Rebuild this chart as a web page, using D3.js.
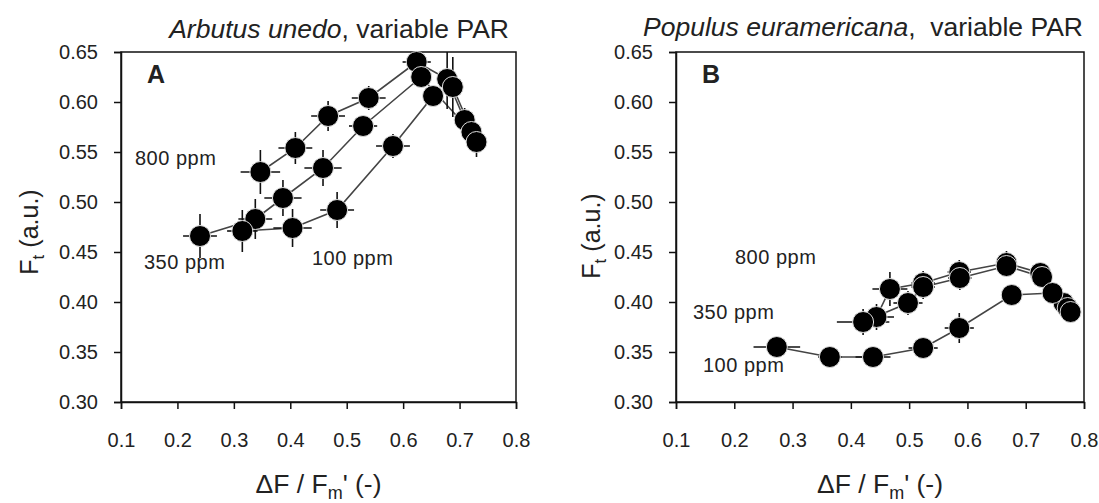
<!DOCTYPE html>
<html>
<head>
<meta charset="utf-8">
<script src="https://cdn.jsdelivr.net/npm/d3@7"></script>
<style>
  body { margin: 0; background: #fff; }
  text { font-family: "Liberation Sans", Arial, sans-serif; fill: #222; }
</style>
</head>
<body>
<script>
// axis ticks
var xTicks = [0.1, 0.2, 0.3, 0.4, 0.5, 0.6, 0.7, 0.8];
var yTicks = [0.30, 0.35, 0.40, 0.45, 0.50, 0.55, 0.60, 0.65];

// panel A - Arbutus unedo (dF/Fm', Ft, x error, y error)
var xA800 = [0.347, 0.409, 0.467, 0.539, 0.624, 0.678, 0.709];
var yA800 = [0.530, 0.554, 0.586, 0.604, 0.640, 0.623, 0.582];
var exA800 = [0.035, 0.03, 0.03, 0.03, 0.025, 0.015, 0.01];
var eyA800 = [0.022, 0.016, 0.015, 0.012, 0.012, 0.03, 0.012];

var xA350 = [0.240, 0.338, 0.387, 0.458, 0.529, 0.632, 0.721];
var yA350 = [0.466, 0.483, 0.504, 0.534, 0.576, 0.625, 0.570];
var exA350 = [0.03, 0.03, 0.033, 0.033, 0.025, 0.015, 0.01];
var eyA350 = [0.022, 0.02, 0.018, 0.018, 0.01, 0.01, 0.012];

var xA100 = [0.315, 0.404, 0.483, 0.582, 0.653, 0.688, 0.730];
var yA100 = [0.471, 0.474, 0.492, 0.556, 0.606, 0.615, 0.560];
var exA100 = [0.027, 0.034, 0.03, 0.03, 0.012, 0.01, 0.008];
var eyA100 = [0.021, 0.019, 0.018, 0.012, 0.01, 0.03, 0.015];

// panel B - Populus euramericana
var xB800 = [0.444, 0.467, 0.524, 0.586, 0.667, 0.725, 0.765];
var yB800 = [0.385, 0.413, 0.419, 0.430, 0.439, 0.429, 0.399];
var exB800 = [0.03, 0.03, 0.02, 0.02, 0.015, 0.01, 0.01];
var eyB800 = [0.013, 0.017, 0.012, 0.012, 0.012, 0.01, 0.01];

var xB350 = [0.421, 0.498, 0.524, 0.587, 0.667, 0.728, 0.772];
var yB350 = [0.380, 0.399, 0.415, 0.424, 0.436, 0.425, 0.394];
var exB350 = [0.045, 0.025, 0.02, 0.02, 0.015, 0.01, 0.01];
var eyB350 = [0.013, 0.012, 0.012, 0.012, 0.01, 0.01, 0.01];

var xB100 = [0.273, 0.364, 0.438, 0.524, 0.586, 0.676, 0.746, 0.777];
var yB100 = [0.355, 0.345, 0.345, 0.354, 0.374, 0.407, 0.409, 0.390];
var exB100 = [0.04, 0.02, 0.03, 0.025, 0.025, 0.015, 0.01, 0.01];
var eyB100 = [0.01, 0.008, 0.008, 0.01, 0.015, 0.01, 0.01, 0.01];

var svgWidth = 1099;
var svgHeight = 503;

var svg = d3.select("body")
    .append("svg")
    .attr("width", svgWidth)
    .attr("height", svgHeight);

function zip(xs, ys, exs, eys) {
    return xs.map(function (x, i) {
        return { x: x, y: ys[i], ex: exs[i], ey: eys[i] };
    });
}

var panels = [
    {
        id: "A", left: 121, right: 516, top: 52, bottom: 402,
        species: "Arbutus unedo", rest: ", variable PAR", titleEnd: 509, titleY: 38,
        yLabelX: 38, yLabelY: 232,
        series: [
            zip(xA800, yA800, exA800, eyA800),
            zip(xA350, yA350, exA350, eyA350),
            zip(xA100, yA100, exA100, eyA100)
        ],
        notes: [
            { text: "800 ppm", x: 135, y: 165 },
            { text: "350 ppm", x: 144, y: 269 },
            { text: "100 ppm", x: 312, y: 265 }
        ]
    },
    {
        id: "B", left: 676, right: 1084, top: 52, bottom: 402,
        species: "Populus euramericana", rest: ",  variable PAR", titleEnd: 1083, titleY: 36,
        yLabelX: 600, yLabelY: 236,
        series: [
            zip(xB800, yB800, exB800, eyB800),
            zip(xB350, yB350, exB350, eyB350),
            zip(xB100, yB100, exB100, eyB100)
        ],
        notes: [
            { text: "800 ppm", x: 735, y: 264 },
            { text: "350 ppm", x: 693, y: 319 },
            { text: "100 ppm", x: 703, y: 372 }
        ]
    }
];

panels.forEach(function (p) {
    var x = d3.scaleLinear().domain([0.1, 0.8]).range([p.left, p.right]);
    var y = d3.scaleLinear().domain([0.30, 0.65]).range([p.bottom, p.top]);

    var g = svg.append("g");

    // clip for error bars
    var clipId = "clip" + p.id;
    svg.append("clipPath").attr("id", clipId)
        .append("rect")
        .attr("x", p.left).attr("y", p.top)
        .attr("width", p.right - p.left).attr("height", p.bottom - p.top);

    // frame
    g.append("rect")
        .attr("x", p.left).attr("y", p.top)
        .attr("width", p.right - p.left).attr("height", p.bottom - p.top)
        .attr("fill", "none").attr("stroke", "#111").attr("stroke-width", 1.5);

    var leftAxis = d3.axisLeft(y).tickValues(yTicks).tickFormat(d3.format(".2f"))
        .tickSize(7).tickPadding(16);
    var bottomAxis = d3.axisBottom(x).tickValues(xTicks).tickFormat(d3.format(".1f"))
        .tickSize(7).tickPadding(24);

    var ya = g.append("g").attr("transform", "translate(" + p.left + ",0)").call(leftAxis);
    var xa = g.append("g").attr("transform", "translate(0," + p.bottom + ")").call(bottomAxis);
    [ya, xa].forEach(function (a) {
        a.select(".domain").attr("stroke", "#111").attr("stroke-width", 1.5);
        a.selectAll(".tick line").attr("stroke", "#111").attr("stroke-width", 1.5);
        a.selectAll(".tick text").attr("font-size", 20).attr("fill", "#333");
    });

    // titles
    var t = g.append("text")
        .attr("x", p.titleEnd).attr("y", p.titleY)
        .attr("text-anchor", "end").attr("font-size", 26.5);
    t.append("tspan").attr("font-style", "italic").text(p.species);
    t.append("tspan").attr("xml:space", "preserve").text(p.rest);

    g.append("text")
        .attr("x", x(0.1) + 26).attr("y", 83)
        .attr("font-size", 25).attr("font-weight", "bold").attr("fill", "#111")
        .text(p.id);

    // y label
    var yl = g.append("text")
        .attr("transform", "translate(" + p.yLabelX + "," + p.yLabelY + ") rotate(-90)")
        .attr("text-anchor", "middle").attr("font-size", 25);
    yl.append("tspan").text("F");
    yl.append("tspan").attr("font-size", 17).attr("dy", 6).text("t");
    yl.append("tspan").attr("dy", -6).text(" (a.u.)");

    // x label
    var xl = g.append("text")
        .attr("x", (p.left + p.right) / 2).attr("y", 493)
        .attr("text-anchor", "middle").attr("font-size", 26.5);
    xl.append("tspan").text("\u0394F / F");
    xl.append("tspan").attr("font-size", 18).attr("dy", 6).text("m");
    xl.append("tspan").attr("dy", -6).text("' (-)");

    // annotations
    p.notes.forEach(function (n) {
        g.append("text").attr("x", n.x).attr("y", n.y)
            .attr("font-size", 20).attr("letter-spacing", 0.5).attr("fill", "#333")
            .text(n.text);
    });

    var line = d3.line().x(function (d) { return x(d.x); }).y(function (d) { return y(d.y); });

    var plot = g.append("g").attr("clip-path", "url(#" + clipId + ")");

    p.series.forEach(function (s) {
        plot.append("path").datum(s)
            .attr("d", line)
            .attr("fill", "none").attr("stroke", "#444").attr("stroke-width", 1.6);
    });

    p.series.forEach(function (s) {
        var eb = plot.append("g").attr("stroke", "#111").attr("stroke-width", 1.6);
        eb.selectAll(".ex").data(s).enter().append("line")
            .attr("x1", function (d) { return x(d.x - d.ex); })
            .attr("x2", function (d) { return x(d.x + d.ex); })
            .attr("y1", function (d) { return y(d.y); })
            .attr("y2", function (d) { return y(d.y); });
        eb.selectAll(".ey").data(s).enter().append("line")
            .attr("x1", function (d) { return x(d.x); })
            .attr("x2", function (d) { return x(d.x); })
            .attr("y1", function (d) { return y(d.y - d.ey); })
            .attr("y2", function (d) { return y(d.y + d.ey); });
    });

    p.series.forEach(function (s) {
        g.append("g").selectAll("circle").data(s).enter().append("circle")
            .attr("cx", function (d) { return x(d.x); })
            .attr("cy", function (d) { return y(d.y); })
            .attr("r", 10.5)
            .attr("fill", "#000").attr("stroke", "#ddd").attr("stroke-width", 1);
    });
});
</script>
</body>
</html>
